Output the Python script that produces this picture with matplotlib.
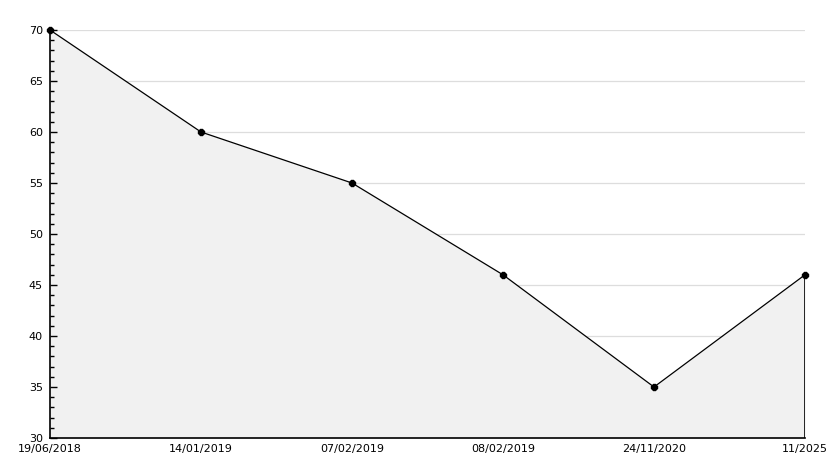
import numpy as np
import matplotlib.pyplot as plt
from matplotlib.ticker import MultipleLocator

dates = ['19/06/2018', '14/01/2019', '07/02/2019', '08/02/2019', '24/11/2020', '11/2025']
values = [70, 60, 55, 46, 35, 46]

x = np.arange(len(dates))
ymin, ymax = 30, 70

fig = plt.figure(figsize=(8.34, 4.68), dpi=100)
ax = fig.add_axes([50 / 834, 1 - 438 / 468, 755 / 834, 408 / 468])

# grid lines under the fill
for t in range(ymin + 5, ymax + 1, 5):
    ax.axhline(t, color='#dddddd', lw=0.9, zorder=0.5)

ax.fill_between(x, values, ymin, color='#f1f1f1', lw=0, zorder=1)
ax.plot(x, values, color='black', lw=0.9, zorder=3)
ax.plot(x, values, ls='none', marker='8', ms=5, color='black', zorder=4, clip_on=False)
ax.vlines(x[-1], ymin, values[-1], color='black', lw=1.2, zorder=3)

ax.set_xlim(x[0], x[-1])
ax.set_ylim(ymin, ymax)
ax.set_xticks(x)
ax.set_xticklabels(dates)
ax.yaxis.set_major_locator(MultipleLocator(5))
ax.yaxis.set_minor_locator(MultipleLocator(1))

for s in ['top', 'right']:
    ax.spines[s].set_visible(False)
ax.spines['left'].set_linewidth(1.2)
ax.spines['bottom'].set_linewidth(1.2)

ax.tick_params(axis='y', which='major', direction='in', length=5, width=1, labelsize=8, pad=5)
ax.tick_params(axis='y', which='minor', direction='in', length=3, width=1)
ax.tick_params(axis='x', length=0, labelsize=8, pad=4)

fig.savefig('out.png', dpi=100)
